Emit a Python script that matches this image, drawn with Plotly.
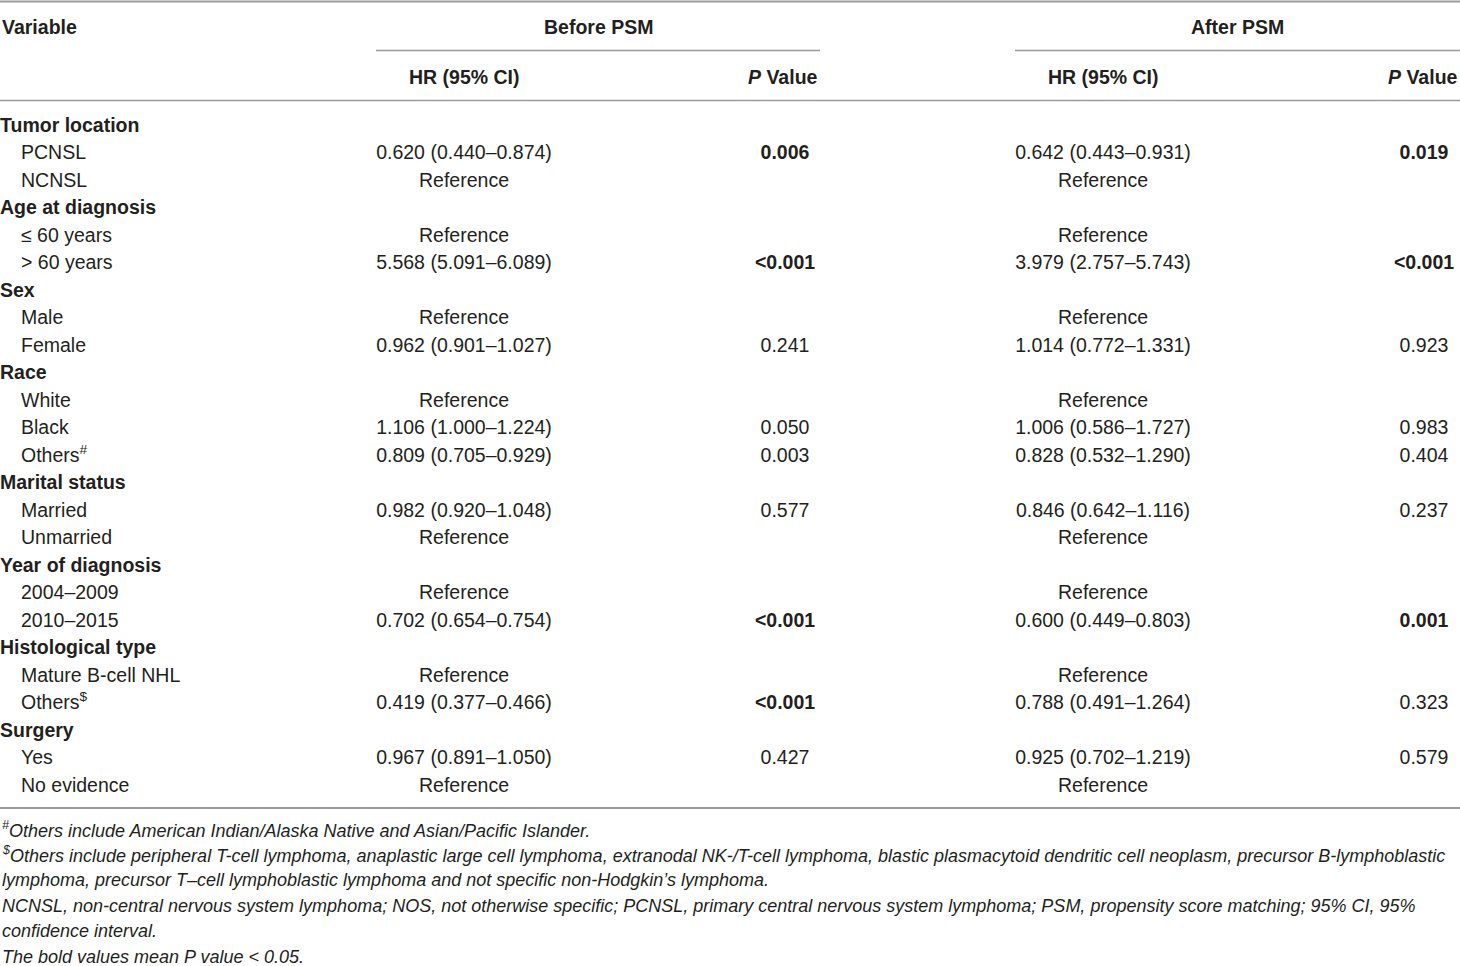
import plotly.graph_objects as go

# ---------------- data ----------------
variables = ["Tumor location", "PCNSL", "NCNSL",
             "Age at diagnosis", "≤ 60 years", "> 60 years",
             "Sex", "Male", "Female",
             "Race", "White", "Black", "Others<sup>#</sup>",
             "Marital status", "Married", "Unmarried",
             "Year of diagnosis", "2004–2009", "2010–2015",
             "Histological type", "Mature B-cell NHL", "Others<sup>$</sup>",
             "Surgery", "Yes", "No evidence"]
is_group = [True, False, False, True, False, False, True, False, False,
            True, False, False, False, True, False, False, True, False, False,
            True, False, False, True, False, False]

hr_before = ["", "0.620 (0.440–0.874)", "Reference",
             "", "Reference", "5.568 (5.091–6.089)",
             "", "Reference", "0.962 (0.901–1.027)",
             "", "Reference", "1.106 (1.000–1.224)", "0.809 (0.705–0.929)",
             "", "0.982 (0.920–1.048)", "Reference",
             "", "Reference", "0.702 (0.654–0.754)",
             "", "Reference", "0.419 (0.377–0.466)",
             "", "0.967 (0.891–1.050)", "Reference"]
p_before = ["", "0.006", "", "", "", "<0.001", "", "", "0.241",
            "", "", "0.050", "0.003", "", "0.577", "", "", "", "<0.001",
            "", "", "<0.001", "", "0.427", ""]
p_before_bold = [False, True, False, False, False, True, False, False, False,
                 False, False, False, False, False, False, False, False, False, True,
                 False, False, True, False, False, False]

hr_after = ["", "0.642 (0.443–0.931)", "Reference",
            "", "Reference", "3.979 (2.757–5.743)",
            "", "Reference", "1.014 (0.772–1.331)",
            "", "Reference", "1.006 (0.586–1.727)", "0.828 (0.532–1.290)",
            "", "0.846 (0.642–1.116)", "Reference",
            "", "Reference", "0.600 (0.449–0.803)",
            "", "Reference", "0.788 (0.491–1.264)",
            "", "0.925 (0.702–1.219)", "Reference"]
p_after = ["", "0.019", "", "", "", "<0.001", "", "", "0.923",
           "", "", "0.983", "0.404", "", "0.237", "", "", "", "0.001",
           "", "", "0.323", "", "0.579", ""]
p_after_bold = [False, True, False, False, False, True, False, False, False,
                False, False, False, False, False, False, False, False, False, True,
                False, False, False, False, False, False]

header_top = ["Variable", "Before PSM", "After PSM"]
header_sub = ["HR (95% CI)", "<i>P</i> Value", "HR (95% CI)", "<i>P</i> Value"]

footnotes = [
    "<sup>#</sup>Others include American Indian/Alaska Native and Asian/Pacific Islander.",
    "<sup>$</sup>Others include peripheral T-cell lymphoma, anaplastic large cell lymphoma, extranodal NK-/T-cell lymphoma, blastic plasmacytoid dendritic cell neoplasm, precursor B-lymphoblastic",
    "lymphoma, precursor T–cell lymphoblastic lymphoma and not specific non-Hodgkin’s lymphoma.",
    "NCNSL, non-central nervous system lymphoma; NOS, not otherwise specific; PCNSL, primary central nervous system lymphoma; PSM, propensity score matching; 95% CI, 95%",
    "confidence interval.",
    "The bold values mean P value &lt; 0.05.",
]

# ---------------- layout / style ----------------
FONT = "Liberation Sans, Arial, sans-serif"
TXT = "#231f20"
LINE = "#9a9a9a"
FS = 19.5
ROW_H = 27.5
Y0 = 127.0          # pixel centre of first body row
W, H = 1460, 966

def r(px):  # pixel row position -> row units
    return (px - Y0) / ROW_H

rows = list(range(len(variables)))

fig = go.Figure()

def text_trace(xs, vals, position):
    keep = [i for i, v in enumerate(vals) if v]
    fig.add_trace(go.Scatter(x=[xs[i] for i in keep], y=[rows[i] for i in keep],
                             mode="text", text=[vals[i] for i in keep],
                             textposition=position,
                             textfont=dict(family=FONT, size=FS, color=TXT),
                             hoverinfo="skip", showlegend=False, cliponaxis=False))

labels = [("<b>%s</b>" % v) if g else v for v, g in zip(variables, is_group)]
label_x = [0 if g else 21 for g in is_group]
text_trace(label_x, labels, "middle right")

def centered(xc, vals, bold=None):
    txt = [("<b>%s</b>" % v) if (bold and bold[i] and v) else v for i, v in enumerate(vals)]
    text_trace([xc] * len(vals), txt, "middle center")

centered(464, hr_before)
centered(785, p_before, p_before_bold)
centered(1103, hr_after)
centered(1424, p_after, p_after_bold)

def ann(x, y, text, xanchor="center", size=FS, italic=False):
    fig.add_annotation(x=x, y=y, xref="x", yref="y", text=text, showarrow=False,
                       xanchor=xanchor, yanchor="middle",
                       font=dict(family=FONT, size=size, color=TXT,
                                 style="italic" if italic else "normal"))

# headers
ann(0, r(27), "<b>%s</b>" % header_top[0], xanchor="left")
ann(598, r(27), "<b>%s</b>" % header_top[1])
ann(1237, r(27), "<b>%s</b>" % header_top[2])
ann(464, r(77), "<b>%s</b>" % header_sub[0])
ann(820, r(77), "<b>%s</b>" % header_sub[1], xanchor="right")
ann(1103, r(77), "<b>%s</b>" % header_sub[2])
ann(1460, r(77), "<b>%s</b>" % header_sub[3], xanchor="right")

# footnotes
for k, f in enumerate(footnotes):
    ann(0, r(829 + 25.6 * k), f, xanchor="left", size=18, italic=True)

# rules
def rule(x0, x1, ypx, w=2):
    fig.add_shape(type="line", xref="x", yref="y", x0=x0, x1=x1, y0=r(ypx), y1=r(ypx),
                  line=dict(color=LINE, width=w))

rule(0, 1460, 1.5)
rule(376, 820, 50.5, 1.5)
rule(1015, 1460, 50.5, 1.5)
rule(0, 1460, 100.5, 1.5)
rule(0, 1460, 808, 2)

fig.update_xaxes(range=[0, W], visible=False, fixedrange=True)
fig.update_yaxes(range=[r(H), r(0)], visible=False, fixedrange=True)
fig.update_layout(width=W, height=H, margin=dict(l=0, r=0, t=0, b=0),
                  paper_bgcolor="white", plot_bgcolor="white",
                  font=dict(family=FONT, color=TXT))

fig.write_html("out.html", config={"displayModeBar": False},
               post_script="document.body.style.margin='0';document.body.style.overflow='hidden';")
